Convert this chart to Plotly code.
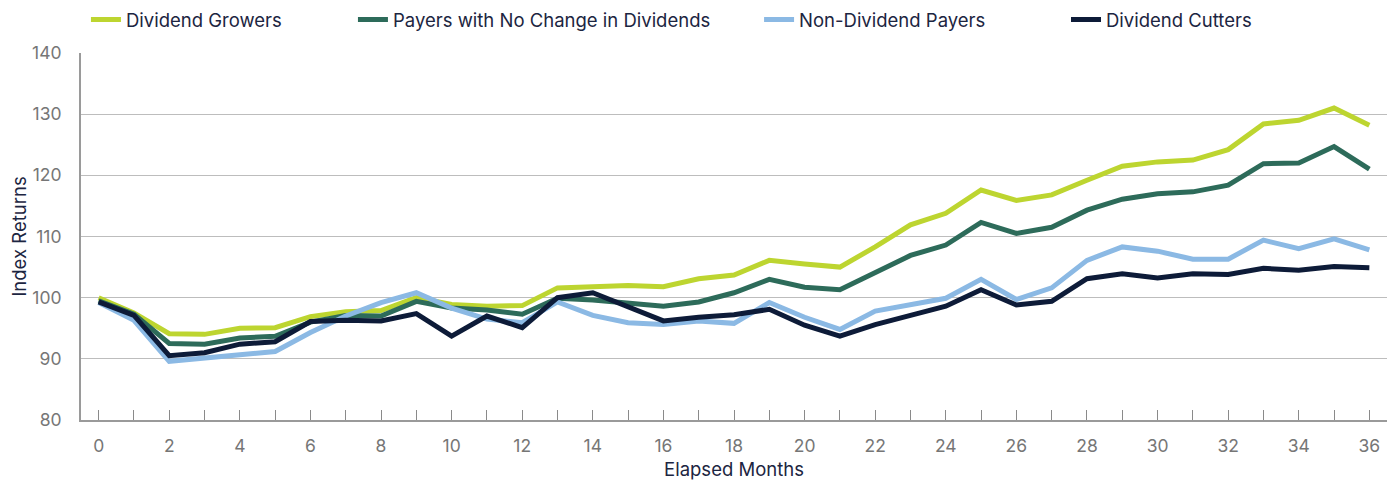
import plotly.graph_objects as go

months = list(range(37))

growers = [100.0, 97.5, 94.1, 94.0, 95.0, 95.1, 96.9, 97.7, 97.9, 100.0,
           98.9, 98.6, 98.7, 101.6, 101.8, 102.0, 101.8, 103.1, 103.7, 106.1,
           105.5, 105.0, 108.3, 111.9, 113.8, 117.6, 115.9, 116.8, 119.2, 121.5,
           122.2, 122.5, 124.2, 128.4, 129.0, 131.0, 128.2]

no_change = [99.5, 97.3, 92.5, 92.4, 93.4, 93.7, 96.0, 97.1, 97.0, 99.4,
             98.3, 98.0, 97.3, 99.9, 99.6, 99.1, 98.6, 99.3, 100.8, 103.0,
             101.7, 101.3, 104.1, 106.9, 108.6, 112.3, 110.5, 111.5, 114.3, 116.1,
             117.0, 117.3, 118.4, 121.9, 122.0, 124.7, 121.0]

non_payers = [99.2, 96.3, 89.6, 90.1, 90.6, 91.2, 94.3, 97.0, 99.2, 100.8,
              98.3, 96.5, 95.9, 99.3, 97.1, 95.9, 95.6, 96.2, 95.8, 99.2,
              96.8, 94.8, 97.8, 98.8, 99.9, 103.0, 99.7, 101.6, 106.1, 108.3,
              107.6, 106.3, 106.3, 109.4, 108.0, 109.6, 107.8]

cutters = [99.3, 97.1, 90.5, 91.0, 92.4, 92.8, 96.1, 96.3, 96.2, 97.4,
           93.7, 97.0, 95.1, 100.0, 100.8, 98.6, 96.2, 96.8, 97.2, 98.1,
           95.5, 93.7, 95.6, 97.1, 98.6, 101.3, 98.8, 99.4, 103.1, 103.9,
           103.2, 103.9, 103.8, 104.8, 104.5, 105.1, 104.9]

series_names = ["Dividend Growers", "Payers with No Change in Dividends",
                "Non-Dividend Payers", "Dividend Cutters"]
series_values = [growers, no_change, non_payers, cutters]
colors = ["#BDD530", "#2D6B5A", "#8BB9E4", "#0D1B38"]
legend_ids = ["legend", "legend2", "legend3", "legend4"]
legend_x = [0.0562, 0.2487, 0.5415, 0.7628]

x_tickvals = list(range(37))
x_ticktext = [str(m) if m % 2 == 0 else "" for m in x_tickvals]
y_tickvals = [80, 90, 100, 110, 120, 130, 140]

fig = go.Figure()
for name, vals, col, lid in zip(series_names, series_values, colors, legend_ids):
    fig.add_trace(go.Scatter(
        x=months, y=vals, mode="lines", name=name,
        line=dict(color=col, width=5), legend=lid,
    ))

font_family = "Inter, 'Noto Sans', sans-serif"
legend_common = dict(orientation="h", yanchor="middle", y=0.9746, yref="container",
                     xanchor="left", xref="container",
                     bgcolor="rgba(0,0,0,0)", borderwidth=0,
                     font=dict(family=font_family, size=18.5, color="#1C2541"))
layout_legends = {}
for lid, lx in zip(legend_ids, legend_x):
    layout_legends[lid] = dict(legend_common, x=lx)

fig.update_layout(
    width=1387, height=472,
    margin=dict(l=73, r=8, t=45, b=60, autoexpand=False),
    paper_bgcolor="white", plot_bgcolor="white",
    font=dict(family=font_family, color="#767676"),
    showlegend=True,
    **layout_legends,
)

fig.update_xaxes(
    range=[-0.5, 36.5], automargin=False,
    tickmode="array", tickvals=x_tickvals, ticktext=x_ticktext,
    ticks="inside", ticklen=10, tickwidth=1, tickcolor="#8a8a8a",
    showline=True, linecolor="#9a9a9a", linewidth=2,
    showgrid=False, zeroline=False,
    tickfont=dict(family=font_family, size=17.5, color="#767676"),
    ticklabelstandoff=9,
    title=dict(text="Elapsed Months", standoff=8,
               font=dict(family=font_family, size=18.5, color="#1C2541")),
)
fig.update_yaxes(
    range=[80, 140], automargin=False,
    tickmode="array", tickvals=y_tickvals,
    ticks="", showline=True, linecolor="#9a9a9a", linewidth=2,
    showgrid=True, gridcolor="#BDBDBD", gridwidth=1, zeroline=False,
    tickfont=dict(family=font_family, size=17.5, color="#767676"),
    ticklabelstandoff=14,
    title=dict(text="Index Returns", standoff=10,
               font=dict(family=font_family, size=18.5, color="#1C2541")),
)

fig.write_html("out.html")
